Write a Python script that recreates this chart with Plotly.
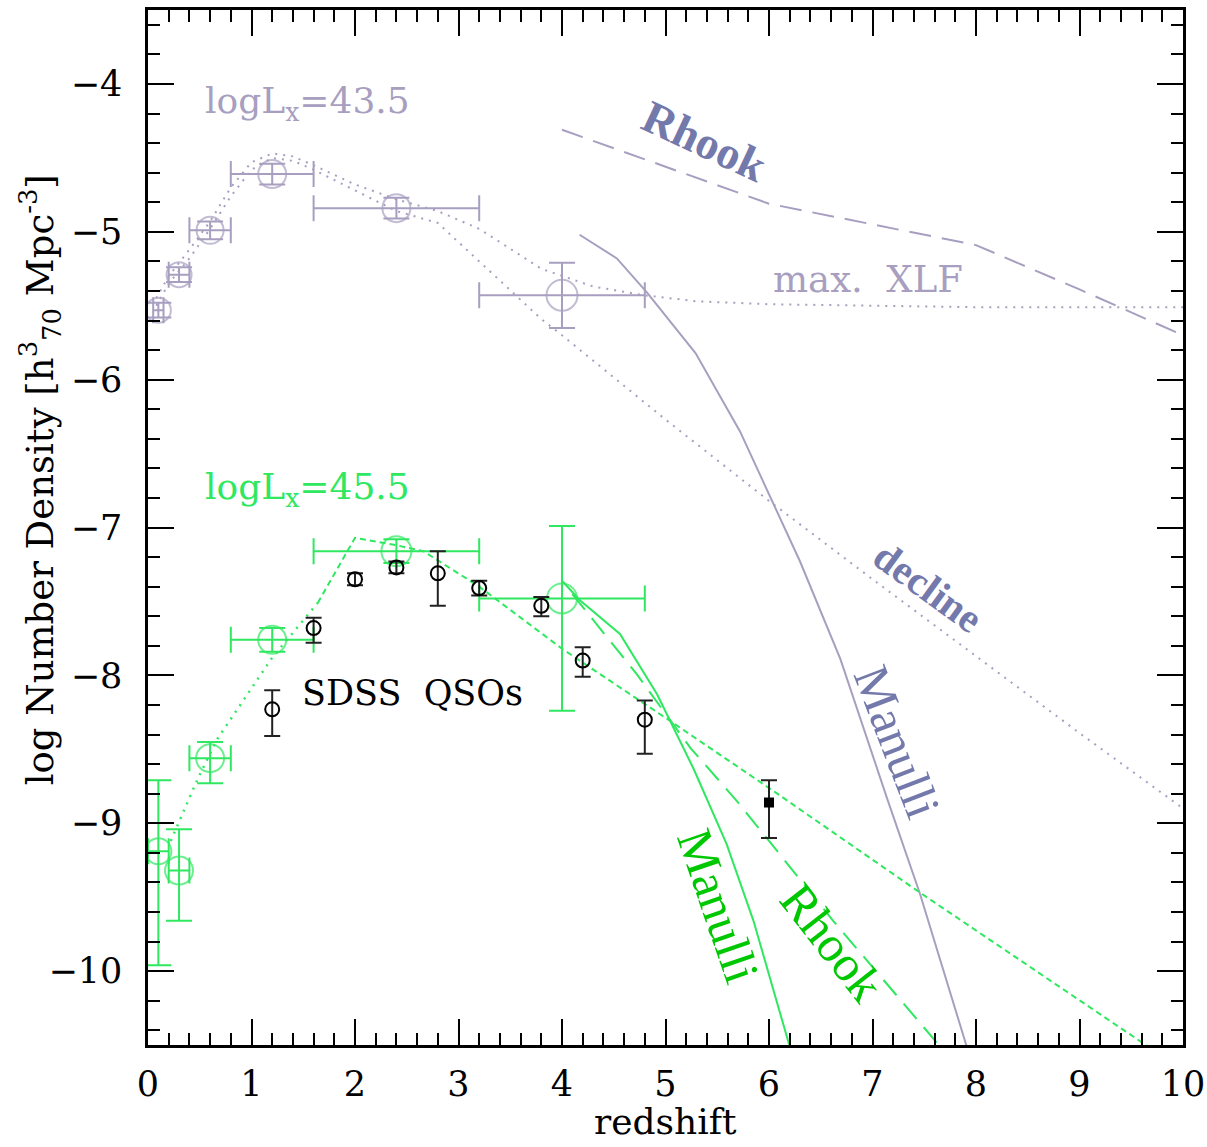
import plotly.graph_objects as go

# ---------------- data ----------------
# logLx = 43.5 (gray) data points
g_z = [0.1, 0.3, 0.6, 1.2, 2.4, 4.0]
g_y = [-5.53, -5.29, -4.99, -4.61, -4.84, -5.43]
g_xerr = [0.05, 0.1, 0.2, 0.4, 0.8, 0.8]
g_yerr = [0.05, 0.05, 0.06, 0.07, 0.07, 0.22]

# logLx = 45.5 (green) data points
n_z = [0.1, 0.3, 0.6, 1.2, 2.4, 4.0]
n_y = [-9.19, -9.32, -8.56, -7.76, -7.16, -7.48]
n_xerr = [0.1, 0.1, 0.2, 0.4, 0.8, 0.8]
n_yerr_plus = [0.48, 0.28, 0.11, 0.08, 0.08, 0.49]
n_yerr_minus = [0.77, 0.34, 0.17, 0.08, 0.08, 0.76]

# SDSS QSOs
q_z = [1.2, 1.6, 2.0, 2.4, 2.8, 3.2, 3.8, 4.2, 4.8]
q_y = [-8.23, -7.68, -7.35, -7.27, -7.31, -7.41, -7.53, -7.90, -8.30]
q_err_plus = [0.13, 0.07, 0.04, 0.04, 0.15, 0.05, 0.06, 0.09, 0.13]
q_err_minus = [0.18, 0.10, 0.04, 0.04, 0.22, 0.05, 0.07, 0.11, 0.23]

# single high-z point (filled square)
s_z = [6.0]
s_y = [-8.86]
s_err_plus = [0.15]
s_err_minus = [0.24]

# gray model curves
maxxlf_z = [0.08, 0.2, 0.4, 0.6, 0.8, 1.0, 1.2, 1.4, 1.6, 2.0, 2.4, 2.8, 3.2, 3.8, 4.3, 4.8, 5.3, 6.0, 7.0, 8.0, 9.0, 10.0]
maxxlf_y = [-5.45, -5.3, -5.12, -4.93, -4.7, -4.53, -4.47, -4.49, -4.55, -4.68, -4.78, -4.86, -4.98, -5.25, -5.37, -5.43, -5.47, -5.49, -5.50, -5.51, -5.51, -5.51]

decline_z = [0.08, 0.2, 0.4, 0.6, 0.8, 1.0, 1.2, 1.4, 1.6, 2.0, 2.4, 2.8, 3.2, 3.8, 4.0, 5.0, 6.0, 7.0, 8.0, 9.0, 10.0]
decline_y = [-5.5, -5.35, -5.18, -4.98, -4.76, -4.58, -4.50, -4.52, -4.58, -4.72, -4.86, -4.94, -5.2, -5.59, -5.70, -6.27, -6.82, -7.35, -7.87, -8.39, -8.9]

rhook_g_z = [4.0, 5.0, 6.0, 7.0, 8.0, 9.0, 10.0]
rhook_g_y = [-4.31, -4.56, -4.81, -4.95, -5.09, -5.39, -5.70]

manulli_g_z = [4.17, 4.53, 4.82, 5.29, 5.72, 6.04, 6.30, 6.69, 7.14, 7.46, 7.91]
manulli_g_y = [-5.02, -5.18, -5.41, -5.82, -6.35, -6.84, -7.23, -7.89, -8.83, -9.48, -10.51]

# green model curves
gdot_z = [0.22, 0.48, 0.67, 1.2, 1.64]
gdot_y = [-9.12, -8.70, -8.43, -7.88, -7.51]

gdash_z = [1.64, 2.0, 2.4, 2.66, 3.2, 4.0, 5.07, 6.08, 7.46, 9.66, 10.0]
gdash_y = [-7.51, -7.07, -7.12, -7.16, -7.40, -7.82, -8.32, -8.80, -9.47, -10.51, -10.67]

manulli_n_z = [4.0, 4.17, 4.56, 4.92, 5.27, 5.59, 5.85, 6.2]
manulli_n_y = [-7.36, -7.49, -7.72, -8.13, -8.63, -9.14, -9.66, -10.51]

rhook_n_z = [4.1, 4.72, 5.24, 5.69, 6.23, 6.62, 7.58, 7.65]
rhook_n_y = [-7.45, -7.99, -8.49, -8.85, -9.32, -9.66, -10.45, -10.51]

# ---------------- styles ----------------
GRAY = "#a89fc0"
GRAY_LAB = "#7479ab"
GREEN = "#2fe860"
GREEN_LAB = "#00c800"
SERIF = "DejaVu Serif"
TIMES = "Liberation Serif"

fig = go.Figure()

def line(x, y, color, dash, width=2):
    fig.add_trace(go.Scatter(x=x, y=y, mode="lines", line=dict(color=color, dash=dash, width=width),
                             hoverinfo="skip", showlegend=False))

# gray curves
line(maxxlf_z, maxxlf_y, GRAY, "2px,6px")
line(decline_z, decline_y, GRAY, "2px,6px")
line(rhook_g_z, rhook_g_y, GRAY, "22px,11px")
line(manulli_g_z, manulli_g_y, GRAY, "solid")

# green curves
line(gdot_z, gdot_y, GREEN, "2px,6px", 2.5)
line(gdash_z, gdash_y, GREEN, "6px,4px")
line(manulli_n_z, manulli_n_y, GREEN, "solid")
line(rhook_n_z, rhook_n_y, GREEN, "20px,11px")

# gray points
fig.add_trace(go.Scatter(
    x=g_z, y=g_y, mode="markers",
    marker=dict(symbol="circle-open", size=[25, 25, 27, 28, 28, 31], color=GRAY, line=dict(width=2, color=GRAY)),
    error_x=dict(type="data", array=g_xerr, color=GRAY, thickness=2, width=13),
    error_y=dict(type="data", array=g_yerr, color=GRAY, thickness=2, width=13),
    showlegend=False, hoverinfo="skip"))

# green points
fig.add_trace(go.Scatter(
    x=n_z, y=n_y, mode="markers",
    marker=dict(symbol="circle-open", size=[26, 28, 28, 28, 30, 30], color=GREEN, line=dict(width=2, color=GREEN)),
    error_x=dict(type="data", array=n_xerr, color=GREEN, thickness=2, width=13),
    error_y=dict(type="data", symmetric=False, array=n_yerr_plus, arrayminus=n_yerr_minus,
                 color=GREEN, thickness=2, width=13),
    showlegend=False, hoverinfo="skip"))

# SDSS QSOs
fig.add_trace(go.Scatter(
    x=q_z, y=q_y, mode="markers",
    marker=dict(symbol="circle-open", size=14, color="black", line=dict(width=2, color="black")),
    error_y=dict(type="data", symmetric=False, array=q_err_plus, arrayminus=q_err_minus,
                 color="#222222", thickness=2, width=8),
    showlegend=False, hoverinfo="skip"))

fig.add_trace(go.Scatter(
    x=s_z, y=s_y, mode="markers",
    marker=dict(symbol="square", size=10, color="black"),
    error_y=dict(type="data", symmetric=False, array=s_err_plus, arrayminus=s_err_minus,
                 color="#222222", thickness=2, width=8),
    showlegend=False, hoverinfo="skip"))

# ---------------- annotations ----------------
def ann(text, x, y, color, size, family, angle=0):
    fig.add_annotation(x=x, y=y, xref="x", yref="y", text=text, showarrow=False,
                       textangle=angle, font=dict(color=color, size=size, family=family),
                       xanchor="center", yanchor="middle")

ann("logL<sub>x</sub>=43.5", 1.54, -4.135, GRAY, 36, SERIF)
ann("logL<sub>x</sub>=45.5", 1.54, -6.74, GREEN, 36, SERIF)
ann("max.  XLF", 6.96, -5.32, GRAY, 37, SERIF)
ann("SDSS  QSOs", 2.56, -8.12, "black", 35, SERIF)
ann("<b>Rhook</b>", 5.38, -4.39, GRAY_LAB, 46, TIMES, 25)
ann("<b>decline</b>", 7.54, -7.40, GRAY_LAB, 41, TIMES, 36)
ann("Manulli", 7.24, -8.45, GRAY_LAB, 50, TIMES, 69)
ann("Manulli", 5.51, -9.56, GREEN_LAB, 50, TIMES, 71)
ann("Rhook", 6.61, -9.80, GREEN_LAB, 50, TIMES, 52)

# axis titles as annotations (paper coordinates)
fig.add_annotation(x=0.5, y=-0.074, xref="paper", yref="paper", text="redshift", showarrow=False,
                   font=dict(family=SERIF, size=36, color="black"), xanchor="center", yanchor="middle")
fig.add_annotation(x=-0.104, y=0.546, xref="paper", yref="paper",
                   text="log Number Density [h<sup>3</sup><sub>70</sub> Mpc<sup>-3</sup>]",
                   showarrow=False, textangle=-90,
                   font=dict(family=SERIF, size=37, color="black"), xanchor="center", yanchor="middle")

axis_common = dict(
    showline=True, linecolor="black", linewidth=2.5, mirror="allticks",
    ticks="inside", tickcolor="black", tickwidth=2,
    showgrid=False, zeroline=False,
    tickfont=dict(family=SERIF, size=35, color="black"),
)

fig.update_xaxes(range=[0, 10], tick0=0, dtick=1, ticklen=26,
                 minor=dict(ticks="inside", dtick=0.2, ticklen=12, tickwidth=2, tickcolor="black", showgrid=False),
                 ticklabelstandoff=6,
                 **axis_common)
fig.update_yaxes(range=[-10.5, -3.5], tick0=-10, dtick=1, ticklen=26,
                 minor=dict(ticks="inside", dtick=0.2, ticklen=12, tickwidth=2, tickcolor="black", showgrid=False),
                 ticklabelstandoff=16,
                 **axis_common)

fig.update_layout(
    width=1207, height=1147,
    margin=dict(l=148, r=24, t=10, b=102, autoexpand=False),
    plot_bgcolor="white", paper_bgcolor="white",
    showlegend=False,
)

fig.write_html("out.html")
